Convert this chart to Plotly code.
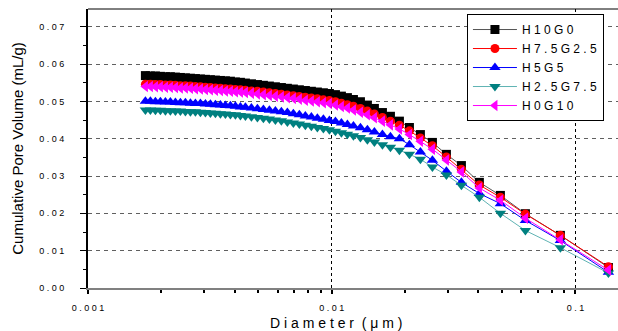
import plotly.graph_objects as go

# Pore diameter (um)
diameter = [0.001720, 0.001803, 0.001891, 0.001982, 0.002078, 0.002178, 0.002284, 0.002394,
            0.002510, 0.002632, 0.002759, 0.002893, 0.003033, 0.003179, 0.003333, 0.003494,
            0.003663, 0.003841, 0.004026, 0.004221, 0.004425, 0.004683, 0.004956, 0.005244,
            0.005550, 0.005874, 0.006216, 0.006578, 0.006962, 0.007367, 0.007797, 0.008252,
            0.008733, 0.009244, 0.009785, 0.01036, 0.01096, 0.01160, 0.01228, 0.01312,
            0.01401, 0.01497, 0.01615, 0.01742, 0.01896, 0.02084, 0.02312, 0.02590,
            0.02956, 0.03406, 0.04036, 0.04923, 0.06236, 0.08678, 0.1366]

h10g0 = [0.0569, 0.0568, 0.0568, 0.0567, 0.0566, 0.0566, 0.0565, 0.0564, 0.0563, 0.0562,
         0.0561, 0.0560, 0.0559, 0.0558, 0.0557, 0.0556, 0.0555, 0.0554, 0.0552, 0.0551,
         0.0549, 0.0547, 0.0545, 0.0543, 0.0541, 0.0539, 0.0537, 0.0535, 0.0533, 0.0531,
         0.0529, 0.0527, 0.0525, 0.0523, 0.0521, 0.0518, 0.0514, 0.0510, 0.0505, 0.0499,
         0.0490, 0.0481, 0.0470, 0.0460, 0.0447, 0.0430, 0.0411, 0.0390, 0.0358, 0.0328,
         0.0283, 0.0248, 0.0199, 0.0141, 0.0055]

h75g25 = [0.0546, 0.0546, 0.0545, 0.0545, 0.0544, 0.0544, 0.0543, 0.0542, 0.0542, 0.0541,
          0.0540, 0.0539, 0.0538, 0.0537, 0.0536, 0.0535, 0.0534, 0.0533, 0.0532, 0.0531,
          0.0530, 0.0528, 0.0527, 0.0525, 0.0523, 0.0521, 0.0519, 0.0517, 0.0515, 0.0513,
          0.0511, 0.0509, 0.0507, 0.0504, 0.0502, 0.0499, 0.0495, 0.0491, 0.0487, 0.0481,
          0.0474, 0.0466, 0.0457, 0.0447, 0.0436, 0.0421, 0.0402, 0.0381, 0.0351, 0.0318,
          0.0276, 0.0243, 0.0198, 0.0141, 0.0057]

h5g5 = [0.0500, 0.0500, 0.0499, 0.0499, 0.0498, 0.0498, 0.0497, 0.0496, 0.0496, 0.0495,
        0.0494, 0.0494, 0.0493, 0.0492, 0.0491, 0.0490, 0.0489, 0.0488, 0.0487, 0.0485,
        0.0484, 0.0482, 0.0480, 0.0478, 0.0476, 0.0474, 0.0472, 0.0470, 0.0467, 0.0464,
        0.0461, 0.0458, 0.0455, 0.0452, 0.0449, 0.0446, 0.0442, 0.0438, 0.0434, 0.0429,
        0.0424, 0.0418, 0.0411, 0.0405, 0.0400, 0.0384, 0.0364, 0.0342, 0.0313, 0.0283,
        0.0253, 0.0226, 0.0181, 0.0127, 0.0042]

h25g75 = [0.0477, 0.0477, 0.0476, 0.0476, 0.0475, 0.0475, 0.0474, 0.0474, 0.0473, 0.0472,
          0.0472, 0.0471, 0.0470, 0.0469, 0.0468, 0.0467, 0.0466, 0.0465, 0.0464, 0.0462,
          0.0461, 0.0459, 0.0457, 0.0455, 0.0453, 0.0450, 0.0448, 0.0445, 0.0442, 0.0439,
          0.0436, 0.0433, 0.0430, 0.0427, 0.0424, 0.0420, 0.0416, 0.0412, 0.0408, 0.0403,
          0.0397, 0.0391, 0.0384, 0.0377, 0.0369, 0.0358, 0.0345, 0.0324, 0.0303, 0.0275,
          0.0243, 0.0200, 0.0154, 0.0108, 0.0040]

h0g10 = [0.0540, 0.0540, 0.0539, 0.0539, 0.0538, 0.0538, 0.0537, 0.0536, 0.0536, 0.0535,
         0.0534, 0.0533, 0.0532, 0.0531, 0.0530, 0.0529, 0.0528, 0.0527, 0.0526, 0.0525,
         0.0524, 0.0522, 0.0520, 0.0518, 0.0516, 0.0514, 0.0512, 0.0510, 0.0508, 0.0506,
         0.0503, 0.0501, 0.0499, 0.0496, 0.0494, 0.0490, 0.0486, 0.0482, 0.0477, 0.0471,
         0.0464, 0.0456, 0.0447, 0.0437, 0.0426, 0.0411, 0.0393, 0.0372, 0.0343, 0.0311,
         0.0268, 0.0235, 0.0187, 0.0129, 0.0048]

series_names = ["H 1 0 G 0", "H 7 . 5 G 2 . 5", "H 5 G 5", "H 2 . 5 G 7 . 5", "H 0 G 1 0"]
series_values = [h10g0, h75g25, h5g5, h25g75, h0g10]
marker_colors = ["#000000", "#ff0000", "#0000ff", "#008080", "#ff00ff"]
line_colors = ["#555555", "#ff0000", "#0000ff", "#5fb3b3", "#ff00ff"]
symbols = ["square", "circle", "triangle-up", "triangle-down", "triangle-left"]
sizes = [9, 9, 10, 10, 10]

x_tick_vals = [0.001, 0.01, 0.1]
x_tick_text = ["0 . 0 0 1", "0 . 0 1", "0 . 1"]
y_tick_vals = [0.00, 0.01, 0.02, 0.03, 0.04, 0.05, 0.06, 0.07]
y_tick_text = ["0 . 0 0", "0 . 0 1", "0 . 0 2", "0 . 0 3", "0 . 0 4", "0 . 0 5", "0 . 0 6", "0 . 0 7"]

x_title = "D i a m e t e r  ( μ m )"
y_title = "Cumulative Pore Volume (mL/g)"

FONT = "Liberation Sans, Arial, sans-serif"

fig = go.Figure()
for name, vals, mc, lc, sym, sz in zip(series_names, series_values, marker_colors,
                                       line_colors, symbols, sizes):
    fig.add_trace(go.Scatter(
        x=diameter, y=vals, name=name, mode="lines+markers",
        line=dict(color=lc, width=1),
        marker=dict(symbol=sym, size=sz, color=mc, line=dict(width=0)),
    ))

minor_x = [m * 10.0 ** e for e in (-3, -2, -1) for m in range(2, 10)]

fig.update_layout(
    width=618, height=331,
    margin=dict(l=88, r=0, t=9, b=43),
    paper_bgcolor="white", plot_bgcolor="white",
    font=dict(family=FONT, color="#000000"),
    showlegend=True,
    legend=dict(
        x=0.715, y=0.982, xanchor="left", yanchor="top",
        bgcolor="white", bordercolor="#000000", borderwidth=1,
        font=dict(family=FONT, size=12, color="#000000"),
        tracegroupgap=0, itemsizing="trace", itemwidth=44,
    ),
    xaxis=dict(
        type="log", range=[-3, -3 + 530 / 243.7],
        tickmode="array", tickvals=x_tick_vals, ticktext=x_tick_text,
        tickfont=dict(family=FONT, size=9, color="#000000"),
        ticks="outside", ticklen=4, tickwidth=2, tickcolor="#000000",
        ticklabelstandoff=6,
        showline=True, linecolor="#808080", linewidth=2,
        showgrid=True, gridcolor="#000000", gridwidth=1, griddash="3px,3px",
        zeroline=False,
        minor=dict(tickmode="array", tickvals=minor_x, ticks="outside", ticklen=3,
                   tickwidth=2, tickcolor="#000000", showgrid=False),
    ),
    yaxis=dict(
        range=[0, 0.07474],
        tickmode="array", tickvals=y_tick_vals, ticktext=y_tick_text,
        tickfont=dict(family=FONT, size=9, color="#000000"),
        ticks="outside", ticklen=6, tickwidth=1, tickcolor="#000000",
        ticklabelstandoff=14,
        showline=True, linecolor="#000000", linewidth=2,
        showgrid=True, gridcolor="#606060", gridwidth=1, griddash="4px,4px",
        zeroline=False,
        minor=dict(dtick=0.005, ticks="outside", ticklen=3, tickwidth=1,
                   tickcolor="#000000", showgrid=False),
        title=dict(text=y_title,
                   font=dict(family=FONT, size=15, color="#000000"), standoff=12),
    ),
    annotations=[dict(text=x_title, xref="paper", yref="paper", x=0.468, y=-0.125,
                      xanchor="center", yanchor="middle", showarrow=False,
                      font=dict(family=FONT, size=14, color="#000000"))],
    shapes=[dict(type="line", xref="paper", yref="paper", x0=0, x1=1, y0=1, y1=1,
                 line=dict(color="#000000", width=1))],
)

fig.write_html("out.html")
